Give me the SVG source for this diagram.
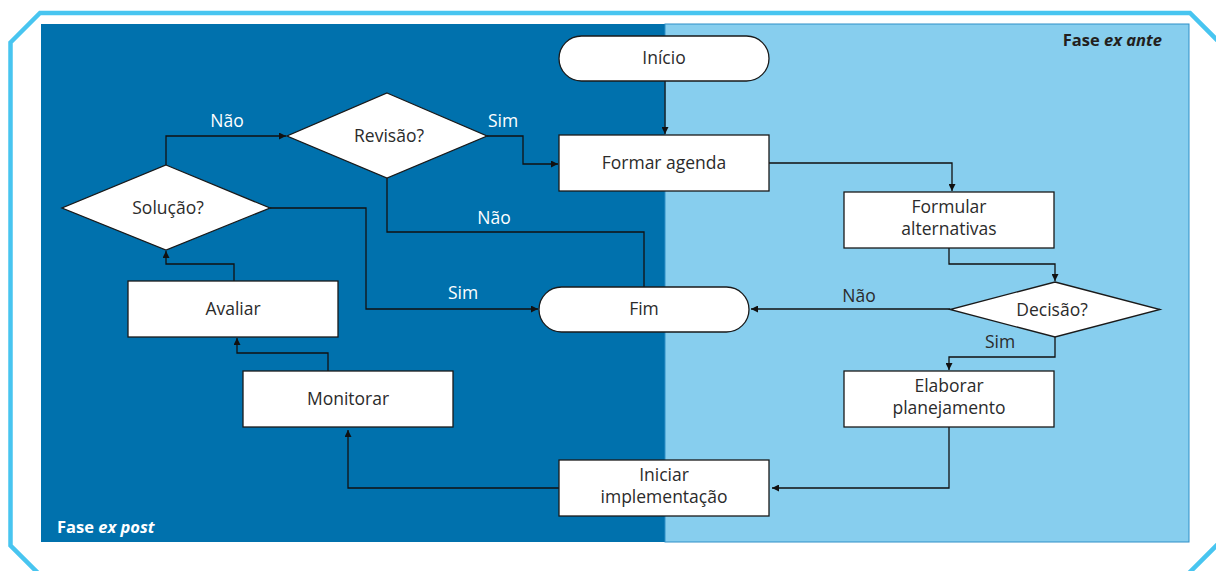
<svg xmlns="http://www.w3.org/2000/svg" width="1216" height="571" viewBox="0 0 1216 571">
<style>
.node{fill:#ffffff;stroke:#1a1a1a;stroke-width:1.3}
.t{font-family:"Open Sans","Noto Sans",sans-serif;font-size:17.5px;fill:#2b2b2b;text-anchor:middle}
.lbl{font-family:"Open Sans","Noto Sans",sans-serif;font-size:17.5px;fill:#ffffff;text-anchor:middle}
.lbld{font-family:"Open Sans","Noto Sans",sans-serif;font-size:17.5px;fill:#2b2b2b;text-anchor:middle}
.phase{font-family:"Open Sans","Noto Sans",sans-serif;font-size:16.5px;font-weight:bold}
.c{fill:none;stroke:#111111;stroke-width:1.3}
</style>
<defs>
<marker id="ah" viewBox="0 0 10 10" refX="10" refY="5" markerWidth="7" markerHeight="7" markerUnits="userSpaceOnUse" orient="auto">
<path d="M0,0 L10,5 L0,10 Z" fill="#111111"/>
</marker>
</defs>
<rect width="1216" height="571" fill="#ffffff"/>
<polygon points="10.5,42.5 40,13 1190,13 1222,45 1222,540 1187,575 40,575 10.5,545.5" fill="none" stroke="#48c5f0" stroke-width="4.5"/>
<rect x="41" y="24" width="624" height="518" fill="#0071ad"/>
<rect x="665" y="24" width="524" height="518" fill="#87ceee" stroke="#2f90c8" stroke-width="1"/>
<text class="phase" x="1162" y="46" text-anchor="end" fill="#231f20">Fase <tspan font-style="italic">ex ante</tspan></text>
<text class="phase" x="57" y="533" fill="#ffffff">Fase <tspan font-style="italic">ex post</tspan></text>

<g id="connectors">
<path class="c" d="M665,81 V134" marker-end="url(#ah)"/>
<path class="c" d="M769,163 H952 V191" marker-end="url(#ah)"/>
<path class="c" d="M949,248 V264 H1055 V281" marker-end="url(#ah)"/>
<path class="c" d="M950,309 H751" marker-end="url(#ah)"/>
<path class="c" d="M1055,337 V357 H949 V370" marker-end="url(#ah)"/>
<path class="c" d="M949,427 V488 H772" marker-end="url(#ah)"/>
<path class="c" d="M559,488 H348 V430" marker-end="url(#ah)"/>
<path class="c" d="M328,371 V353 H237 V338" marker-end="url(#ah)"/>
<path class="c" d="M234,281 V264 H166 V251" marker-end="url(#ah)"/>
<path class="c" d="M166,165 V136 H286" marker-end="url(#ah)"/>
<path class="c" d="M487,136 H523 V164 H558" marker-end="url(#ah)"/>
<path class="c" d="M387,178 V232 H644 V287"/>
<path class="c" d="M270,208 H366 V309 H538" marker-end="url(#ah)"/>
<text class="lbl" x="227" y="127">Não</text>
<text class="lbl" x="503" y="127">Sim</text>
<text class="lbl" x="494" y="224">Não</text>
<text class="lbl" x="463" y="299">Sim</text>
<text class="lbld" x="859" y="302">Não</text>
<text class="lbld" x="1000" y="348">Sim</text>
</g>

<g id="inicio">
<rect class="node" x="559" y="36" width="210" height="45" rx="22.5"/>
<text class="t" x="664" y="64">Início</text>
</g>
<g id="formar-agenda">
<rect class="node" x="559" y="135" width="210" height="56"/>
<text class="t" x="664" y="169">Formar agenda</text>
</g>
<g id="formular-alternativas">
<rect class="node" x="844" y="192" width="210" height="56"/>
<text class="t" x="949" y="213">Formular</text>
<text class="t" x="949" y="235">alternativas</text>
</g>
<g id="decisao">
<polygon class="node" points="1055,282 1160,309.5 1055,337 950,309.5"/>
<text class="t" x="1052" y="316">Decisão?</text>
</g>
<g id="elaborar-planejamento">
<rect class="node" x="844" y="371" width="210" height="56"/>
<text class="t" x="949" y="392">Elaborar</text>
<text class="t" x="949" y="414">planejamento</text>
</g>
<g id="iniciar-implementacao">
<rect class="node" x="559" y="460" width="210" height="56"/>
<text class="t" x="664" y="481">Iniciar</text>
<text class="t" x="664" y="503">implementação</text>
</g>
<g id="monitorar">
<rect class="node" x="243" y="371" width="210" height="56"/>
<text class="t" x="348" y="405">Monitorar</text>
</g>
<g id="avaliar">
<rect class="node" x="128" y="281" width="210" height="56"/>
<text class="t" x="233" y="315">Avaliar</text>
</g>
<g id="solucao">
<polygon class="node" points="166,165 270,208 166,250 62,208"/>
<text class="t" x="168" y="214">Solução?</text>
</g>
<g id="revisao">
<polygon class="node" points="387,93 487,136 387,178 287,136"/>
<text class="t" x="389" y="142">Revisão?</text>
</g>
<g id="fim">
<rect class="node" x="539" y="287" width="210" height="45" rx="22.5"/>
<text class="t" x="644" y="315">Fim</text>
</g>
</svg>
